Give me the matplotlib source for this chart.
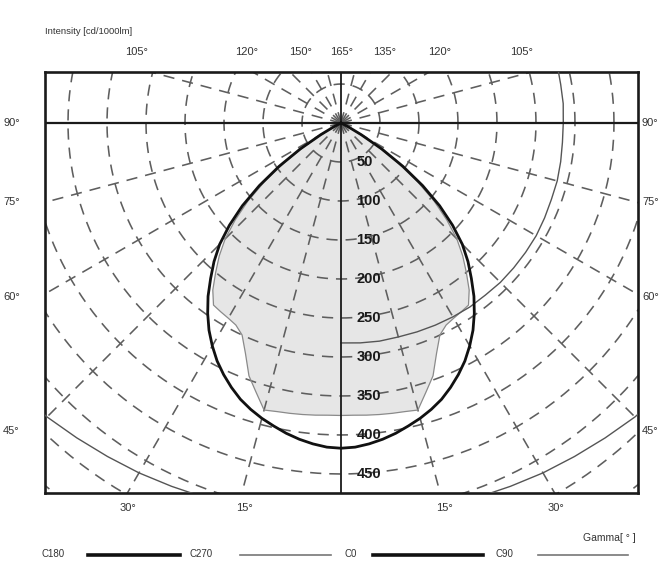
import numpy as np
import matplotlib
matplotlib.use("Agg")
import matplotlib.pyplot as plt
from matplotlib.lines import Line2D

plt.rcParams['font.family'] = ['Liberation Sans', 'DejaVu Sans']

# gamma angles (deg, 0 = straight down) and intensities in cd/1000lm
gamma = [0, 2.5, 5, 7.5, 10, 12.5, 15, 17.5, 20, 22.5, 25, 27.5, 30, 32.5,
         35, 37.5, 40, 42.5, 45, 47.5, 50, 52.5, 55, 57.5, 60, 62.5, 65]
c0_c180 = [417, 416, 413, 409, 404, 398, 392, 385, 377, 367, 356, 344, 330, 315,
           298, 280, 260, 241, 220, 194, 165, 132, 97, 62, 30, 10, 0]
shaded = [375, 375, 376, 377, 378, 379, 381, 362, 345, 320, 300, 292, 289, 287,
          285, 270, 250, 231, 210, 184, 156, 124, 89, 55, 25, 8, 0]

c90_gamma = [0, 5, 10, 15, 20, 25, 30, 35, 40, 45, 50, 55, 60, 65, 70, 75,
             80, 85, 90, 95, 100, 105, 110]
c90 = [282, 283, 284, 284, 285, 286, 287, 288, 288, 289, 289, 289, 289, 288,
       287, 287, 286, 285, 285, 286, 286, 287, 287]

c270_gamma = [0, 5, 10, 15, 20, 25, 30, 35, 40, 45, 50, 55, 60]
c270 = [505, 506, 507, 509, 511, 514, 518, 522, 527, 533, 538, 543, 548]

rings = [50, 100, 150, 200, 250, 300, 350, 400, 450, 500, 550, 600, 650]
ring_labels = ['50', '100', '150', '200', '250', '300', '350', '400', '450']

side_ticks = ['90°', '75°', '60°', '45°']
side_tick_y = [123, 202, 297, 431]
bottom_ticks = ['30°', '15°', '15°', '30°']
bottom_tick_x = [128, 244, 444, 556]
top_labels = ['105°', '120°', '150°', '165°', '135°', '120°', '105°']
top_label_x = [137, 247, 301, 342, 385, 440, 522]


def polar_xy(g, r, side=1):
    g = np.radians(np.asarray(g, dtype=float))
    r = np.asarray(r, dtype=float)
    return side * r * np.sin(g), -r * np.cos(g)


fig = plt.figure(figsize=(6.72, 5.62), dpi=100)
W, H = 672, 562
ax = fig.add_axes([45 / W, 1 - 493 / H, (638 - 45) / W, (493 - 72) / H])
ax.set_xlim(-379.5, 380.8)
ax.set_ylim(-474.4, 65.4)
ax.set_xticks([])
ax.set_yticks([])
for s in ax.spines.values():
    s.set_linewidth(1.9)
    s.set_color('#1a1a1a')

dash = (0, (7, 5))
grid_col = '#5e5e5e'

# shaded area
gx_r, gy_r = polar_xy(gamma, shaded, 1)
gx_l, gy_l = polar_xy(gamma[::-1], shaded[::-1], -1)
ax.fill(np.r_[gx_r, gx_l], np.r_[gy_r, gy_l], color='#e6e6e6', zorder=1, lw=0)
ax.plot(np.r_[gx_r, gx_l], np.r_[gy_r, gy_l], color='#8a8a8a', lw=0.9, zorder=3)

# dashed polar grid
t = np.linspace(0, 2 * np.pi, 400)
for r in rings:
    ax.plot(r * np.cos(t), r * np.sin(t), color=grid_col, lw=1.15, ls=dash, zorder=2)
for a in range(15, 360, 15):
    if a % 90 == 0:
        continue
    x, y = polar_xy([a, a], [0, 800])
    ax.plot(x, y, color=grid_col, lw=1.15, ls=dash, zorder=2)

# axes cross
ax.axhline(0, color='#1a1a1a', lw=1.6, zorder=4)
ax.axvline(0, color='#1a1a1a', lw=1.3, zorder=4)

# thin gray curves
x, y = polar_xy(c90_gamma, c90, 1)
ax.plot(x, y, color='#555555', lw=1.0, zorder=3)
for side in (1, -1):
    x, y = polar_xy(c270_gamma, c270, side)
    ax.plot(x, y, color='#555555', lw=1.0, zorder=3)

# main curve
x_r, y_r = polar_xy(gamma, c0_c180, 1)
x_l, y_l = polar_xy(gamma[::-1], c0_c180[::-1], -1)
ax.plot(np.r_[x_l, x_r], np.r_[y_l, y_r], color='#111111', lw=2.0, zorder=5)

for lab, r in zip(ring_labels, rings):
    ax.text(20, -r, lab, fontsize=10.5, fontweight='bold', va='center', ha='left',
            color='#1a1a1a', zorder=6)


# frame labels (figure pixel positions)
def px(xp, yp):
    return xp / W, 1 - yp / H


for lab, yp in zip(side_ticks, side_tick_y):
    fig.text(*px(3, yp), lab, fontsize=8, va='center', ha='left', color='#333333')
    fig.text(*px(642, yp), lab, fontsize=8, va='center', ha='left', color='#333333')

for lab, xp in zip(bottom_ticks, bottom_tick_x):
    fig.text(*px(xp, 508), lab, fontsize=8, va='center', ha='center', color='#333333')

for lab, xp in zip(top_labels, top_label_x):
    fig.text(*px(xp, 52), lab, fontsize=8, va='center', ha='center', color='#333333')

fig.text(*px(45, 31), 'Intensity [cd/1000lm]', fontsize=6.8, va='center', ha='left',
         color='#333333')
fig.text(*px(636, 538), 'Gamma[ ° ]', fontsize=7.5, va='center', ha='right', color='#333333')

# legend along the bottom edge
legend_items = [('C180', 41, 88, 180, '#111111', 2.6),
                ('C270', 190, 240, 331, '#777777', 1.2),
                ('C0', 345, 373, 483, '#111111', 2.6),
                ('C90', 496, 538, 628, '#777777', 1.2)]
for lab, tx, x0, x1, col, lw in legend_items:
    fig.text(*px(tx, 554), lab, fontsize=7, va='center', ha='left', color='#333333')
    fig.add_artist(Line2D([x0 / W, x1 / W], [1 - 555 / H] * 2, color=col, lw=lw,
                          transform=fig.transFigure))

fig.savefig('out.png', dpi=100)
